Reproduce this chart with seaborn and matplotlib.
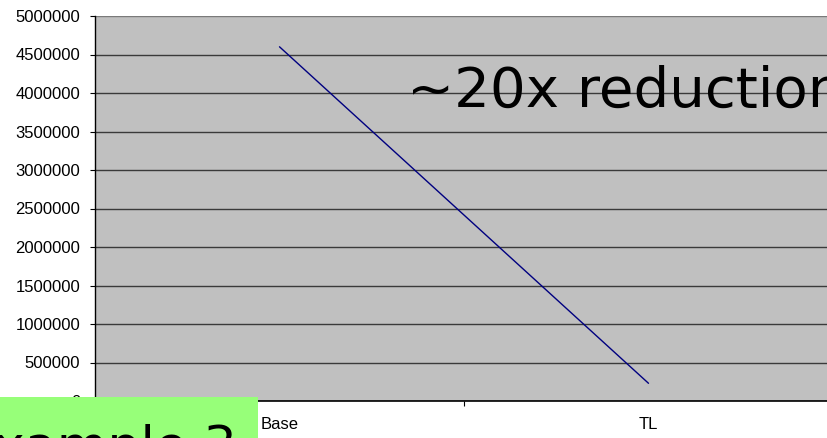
import matplotlib
matplotlib.use("Agg")
import matplotlib.pyplot as plt
from matplotlib.patches import Rectangle
from matplotlib.ticker import FuncFormatter
import seaborn as sns
import pandas as pd

# Data
categories = ["Base", "TL"]
counts = [4600000, 230000]
y_ticks = [0, 500000, 1000000, 1500000, 2000000, 2500000,
           3000000, 3500000, 4000000, 4500000, 5000000]

sns.set_style("white")
plt.rcParams["font.family"] = ["Liberation Sans", "DejaVu Sans"]

W, H = 828, 438
fig = plt.figure(figsize=(W / 100, H / 100), dpi=100, facecolor="white")
ax = fig.add_axes([95 / W, 37 / H, (833 - 95) / W, 385 / H])
ax.set_facecolor("#C0C0C0")

df = pd.DataFrame({"case": categories, "count": counts})
sns.lineplot(data=df, x="case", y="count", color="#000080", linewidth=1.0,
             ax=ax, zorder=3)

ax.set_xlim(-0.5, 1.5)
ax.set_ylim(0, 5000000)
ax.set_xlabel("")
ax.set_ylabel("")

# y axis: plain integer labels, gridlines at every tick
ax.set_yticks(y_ticks)
ax.yaxis.set_major_formatter(FuncFormatter(lambda v, p: f"{int(v)}"))
ax.yaxis.grid(True, color="#3a3a3a", linewidth=1.0)
ax.get_ygridlines()[-1].set_color("#7a7a7a")
ax.xaxis.grid(False)
ax.set_axisbelow(True)
ax.tick_params(axis="y", which="major", left=True, length=3.6, width=0.8,
               color="black", pad=7, labelsize=12, labelcolor="black")

# x axis: labels centred in each category, tick marks at category edges
ax.set_xticks([0, 1])
ax.set_xticklabels(categories)
ax.tick_params(axis="x", which="major", length=0, pad=11.5, labelsize=12,
               labelcolor="black")
ax.set_xticks([0.5], minor=True)
ax.tick_params(axis="x", which="minor", bottom=True, length=3.6, width=0.8,
               color="black")

for side in ("top", "right"):
    ax.spines[side].set_visible(False)
ax.spines["left"].set_color("black")
ax.spines["left"].set_linewidth(1.0)
ax.spines["bottom"].set_color("black")
ax.spines["bottom"].set_linewidth(1.2)

# Annotation inside the plot area
fig.text(407 / W, (H - 107) / H, "~20x reduction", fontsize=40.5,
         family="DejaVu Sans", color="black", ha="left", va="baseline",
         zorder=6)

# Green slide label in the lower-left corner
fig.add_artist(Rectangle((0, 0), 258 / W, 41 / H, transform=fig.transFigure,
                         facecolor="#97FF79", edgecolor="none", zorder=5))
fig.text(-39 / W, -24.5 / H, "Example 3", fontsize=37.5, family="DejaVu Sans",
         color="black", ha="left", va="baseline", zorder=6)

fig.savefig("out.png", dpi=100, facecolor="white")
